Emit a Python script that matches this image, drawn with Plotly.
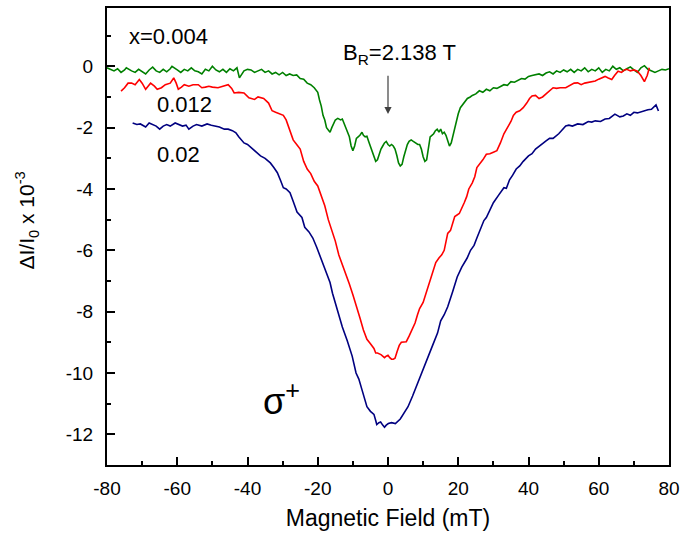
import plotly.graph_objects as go

# ---------------- data ----------------
green_x = [-80, -79, -78, -77, -76, -75, -74.5, -73, -72, -71, -70, -69, -68, -67, -66, -65, -64, -63, -62, -61.5,
           -60, -59, -58, -57, -56, -55, -54, -53, -52, -51, -50, -49, -48, -47, -46, -45, -44, -43, -42.3, -41,
           -40, -39, -38, -37, -36, -35, -34, -33, -32, -31, -30, -29, -28, -27, -26, -25, -24, -23, -22, -21,
           -20, -19.5, -19, -18.5, -18, -17.5, -17, -16.5, -16, -15.5, -15, -14.3, -13.5, -13, -12.5, -12, -11.5,
           -11, -10.5, -10, -9.5, -9, -8.5, -8, -7.4, -7, -6.5, -6, -5.5, -5, -4.5, -4, -3.5, -3, -2.5, -2, -1.5,
           -1, -0.5, 0, 0.5, 1, 1.5, 2, 2.5, 3, 3.5, 4, 4.5, 5, 5.5, 6, 6.6, 7.2, 8, 8.5, 9, 9.5, 10, 10.5, 11,
           11.5, 12, 12.5, 13, 13.5, 14, 14.5, 15, 15.5, 16, 16.5, 17, 17.5, 18, 18.5, 19, 19.5, 20, 20.6, 21.2,
           22, 22.6, 23.4, 24, 25, 26, 27, 28, 29, 30, 31, 32, 33, 34, 35, 36, 37, 38, 39, 40, 41, 42, 43, 44,
           45, 46, 47, 48, 49, 50, 51, 52, 53, 54, 55, 56, 57, 58, 59, 60, 61, 62, 63, 64, 65, 66, 67, 68, 69,
           70, 71, 72, 73, 74, 75, 76, 77, 78, 79, 80]
green_y = [-0.05, -0.1, -0.15, -0.08, -0.2, -0.12, -0.05, -0.15, -0.2, -0.1, -0.18, -0.25, -0.12, -0.03, -0.15,
           -0.2, -0.1, -0.18, -0.08, 0.0, -0.12, -0.2, -0.1, -0.15, -0.05, -0.15, -0.18, -0.25, -0.1, -0.15, 0.0,
           -0.12, -0.18, -0.1, -0.2, -0.08, -0.15, -0.05, -0.38, -0.15, -0.1, -0.12, -0.2, -0.15, -0.1, -0.2,
           -0.15, -0.25, -0.2, -0.28, -0.2, -0.3, -0.25, -0.3, -0.28, -0.4, -0.42, -0.55, -0.6, -0.7, -0.85,
           -1.1, -1.3, -1.6, -1.75, -2.0, -2.1, -2.15, -2.0, -1.85, -1.75, -1.7, -1.75, -1.72, -1.85, -2.0,
           -2.15, -2.3, -2.6, -2.75, -2.6, -2.35, -2.3, -2.25, -2.15, -2.25, -2.3, -2.28, -2.45, -2.6, -2.8,
           -2.95, -3.1, -3.05, -2.85, -2.7, -2.6, -2.5, -2.45, -2.55, -2.6, -2.55, -2.6, -2.7, -2.9, -3.15,
           -3.25, -3.2, -2.95, -2.7, -2.55, -2.45, -2.4, -2.45, -2.5, -2.55, -2.55, -2.7, -2.95, -3.1, -3.05,
           -2.6, -2.3, -2.25, -2.2, -2.1, -2.05, -2.15, -2.05, -2.2, -2.15, -2.25, -2.4, -2.6, -2.5, -2.25,
           -2.05, -1.8, -1.55, -1.35, -1.25, -1.15, -1.05, -1.0, -0.95, -0.9, -0.8, -0.85, -0.75, -0.8, -0.7,
           -0.72, -0.65, -0.6, -0.62, -0.5, -0.52, -0.45, -0.4, -0.42, -0.33, -0.3, -0.28, -0.25, -0.3, -0.22,
           -0.18, -0.25, -0.15, -0.2, -0.12, -0.18, -0.1, -0.2, -0.1, -0.15, -0.05, -0.18, -0.1, -0.15, -0.05,
           -0.2, -0.1, -0.15, 0.0, -0.1, -0.05, -0.15, -0.08, -0.02, -0.12, -0.2, -0.05, 0.02, -0.1, -0.15,
           -0.2, -0.15, -0.1, -0.12, -0.08]

red_x = [-76, -75, -74, -73, -72, -70.8, -70, -69, -68.3, -67.6, -66.5, -65.7, -64.5, -63.4, -62, -61, -60.3,
         -59.7, -58.8, -58, -56.7, -55.5, -54, -53, -52, -51, -50, -48.4, -47, -45.5, -44.5, -43.8, -42.5, -41,
         -39.6, -38, -37, -35.4, -34, -33, -32, -31, -29.8, -29, -28, -27, -26, -25, -24, -23, -22, -21, -20,
         -19, -18, -17, -16, -15, -14, -13, -12, -11, -10, -9, -8, -7, -6, -5, -4, -3.5, -3, -2, -1.5, -1,
         -0.5, 0, 0.5, 1, 1.5, 2, 2.6, 3.2, 3.8, 4.5, 5.2, 6, 6.8, 7.7, 8.4, 9, 10, 11, 11.9, 12.8, 13.6, 14.5,
         15.3, 16, 16.5, 17, 17.8, 18.4, 19, 20.3, 21, 21.7, 22.4, 23, 24, 24.7, 25.3, 26, 27, 28, 29, 30, 31,
         32, 33, 34, 35, 35.7, 36.5, 37.5, 38.5, 39.5, 40.3, 41, 42, 43, 44, 45, 46, 47, 48, 49, 50.6, 52, 53,
         54, 55, 56, 57, 58, 59, 60, 61, 61.8, 62.7, 63.7, 64.5, 65.5, 66.5, 67.3, 68, 69, 70, 71, 72, 73,
         73.8, 74.4]
red_y = [-0.81, -0.7, -0.55, -0.55, -0.6, -0.43, -0.55, -0.75, -0.65, -0.55, -0.65, -0.75, -0.7, -0.6, -0.55,
         -0.38, -0.55, -0.75, -0.68, -0.6, -0.65, -0.6, -0.6, -0.7, -0.68, -0.65, -0.68, -0.7, -0.65, -0.6,
         -0.72, -0.87, -0.85, -0.87, -1.03, -1.08, -1.0, -1.05, -1.2, -1.45, -1.5, -1.55, -1.6, -1.75, -2.1,
         -2.4, -2.55, -2.7, -3.1, -3.35, -3.5, -3.75, -3.9, -4.2, -4.55, -5.0, -5.35, -5.7, -6.15, -6.45, -6.8,
         -7.1, -7.45, -7.8, -8.2, -8.6, -8.9, -9.05, -9.2, -9.35, -9.35, -9.4, -9.45, -9.5, -9.45, -9.42,
         -9.5, -9.55, -9.55, -9.52, -9.3, -9.1, -9.0, -9.0, -8.98, -8.8, -8.6, -8.37, -8.1, -7.9, -7.7, -7.35,
         -6.97, -6.7, -6.4, -6.25, -6.15, -6.0, -5.7, -5.45, -5.35, -5.1, -4.9, -4.8, -4.65, -4.45, -4.25,
         -4.0, -3.8, -3.6, -3.3, -3.2, -3.05, -2.87, -2.85, -2.8, -2.75, -2.5, -2.2, -2.0, -1.8, -1.6, -1.5,
         -1.45, -1.35, -1.2, -1.05, -0.97, -0.95, -1.05, -1.0, -0.9, -0.8, -0.7, -0.72, -0.7, -0.7, -0.62,
         -0.55, -0.54, -0.6, -0.55, -0.52, -0.5, -0.48, -0.42, -0.38, -0.33, -0.38, -0.43, -0.3, -0.16, -0.2,
         -0.12, -0.1, -0.15, -0.12, -0.16, -0.3, -0.5, -0.3, -0.05]

blue_x = [-72.7, -71.5, -70.5, -69, -68, -67, -66, -65, -64, -63, -62, -60.6, -59.5, -58.5, -57.5, -56.7, -55.5,
          -54.5, -53, -51.5, -50.3, -49, -48, -46.6, -45.5, -44.3, -43.3, -42.5, -41.7, -41, -40, -38.5, -37.5,
          -36.3, -35, -33.5, -32.5, -31.5, -30.5, -29.8, -29, -27.9, -27, -25.9, -24.5, -23.7, -22.5, -21.4,
          -20.3, -19, -17.5, -16.5, -15.8, -14.5, -13, -11.6, -10.2, -9.1, -8.3, -7.4, -6.6, -6, -5, -4, -3.5,
          -3.2, -2.6, -2.1, -1.5, -1, -0.5, 0.1, 1, 2.1, 3.5, 4.5, 5.7, 7, 8.5, 10, 11.3, 12.7, 14.1, 15, 16,
          17, 18.4, 19.7, 21, 22.5, 23.5, 24.5, 25.3, 26.2, 27.3, 28, 29, 30, 31.5, 33, 33.7, 34.6, 35.5, 36.5,
          37.5, 38.5, 40, 41, 42, 43, 44, 45, 46, 47, 48.6, 49.5, 50.6, 51.5, 52.5, 54, 55.5, 57, 58, 59, 60.5,
          61.8, 63, 64.6, 66, 67, 68, 69, 70, 71, 72, 73, 74, 75, 76.3, 77]
blue_y = [-1.85, -1.9, -1.88, -1.98, -1.85, -1.9, -1.95, -2.05, -1.95, -1.9, -1.95, -1.85, -1.9, -1.95, -1.92,
          -2.05, -1.95, -1.9, -1.95, -1.88, -1.92, -1.95, -1.98, -2.05, -2.05, -2.1, -2.17, -2.3, -2.4, -2.5,
          -2.55, -2.7, -2.8, -2.92, -3.0, -3.15, -3.3, -3.47, -3.75, -3.96, -4.0, -4.12, -4.4, -4.75, -4.93,
          -5.25, -5.4, -5.6, -5.9, -6.3, -6.75, -7.05, -7.4, -7.9, -8.5, -8.95, -9.45, -10.0, -10.2, -10.55,
          -10.85, -11.1, -11.25, -11.35, -11.55, -11.68, -11.62, -11.6, -11.7, -11.77, -11.7, -11.65, -11.62,
          -11.65, -11.5, -11.3, -11.1, -10.75, -10.3, -9.9, -9.5, -9.1, -8.7, -8.3, -8.1, -7.84, -7.35, -6.87,
          -6.55, -6.26, -6.0, -5.84, -5.6, -5.35, -5.03, -4.93, -4.7, -4.45, -4.2, -3.96, -3.98, -3.7, -3.55,
          -3.35, -3.25, -3.1, -2.92, -2.85, -2.7, -2.6, -2.5, -2.43, -2.35, -2.35, -2.2, -2.1, -1.95, -1.92,
          -1.95, -1.88, -1.9, -1.8, -1.82, -1.78, -1.8, -1.72, -1.7, -1.56, -1.65, -1.62, -1.55, -1.6, -1.5,
          -1.52, -1.48, -1.45, -1.42, -1.4, -1.26, -1.46]

x_ticks = [-80, -60, -40, -20, 0, 20, 40, 60, 80]
x_tick_labels = ["-80", "-60", "-40", "-20", "0", "20", "40", "60", "80"]
y_ticks = [-12, -10, -8, -6, -4, -2, 0]
y_tick_labels = ["-12", "-10", "-8", "-6", "-4", "-2", "0"]

FONT = "Arial, Liberation Sans, sans-serif"

fig = go.Figure()
fig.add_trace(go.Scatter(x=green_x, y=green_y, mode="lines", line=dict(color="#008000", width=1.6),
                         name="x=0.004"))
fig.add_trace(go.Scatter(x=red_x, y=red_y, mode="lines", line=dict(color="#ff0000", width=1.6),
                         name="0.012"))
fig.add_trace(go.Scatter(x=blue_x, y=blue_y, mode="lines", line=dict(color="#000080", width=1.6),
                         name="0.02"))

axis_common = dict(
    showline=True, linecolor="black", linewidth=2, mirror=True,
    ticks="inside", ticklen=8, tickwidth=2, tickcolor="black",
    showgrid=False, zeroline=False,
    tickfont=dict(family=FONT, size=19, color="black"),
    ticklabeloverflow="allow",
)

fig.update_xaxes(range=[-80, 80], tickvals=x_ticks, ticktext=x_tick_labels,
                 minor=dict(ticks="inside", ticklen=4, tickwidth=2, tickcolor="black", dtick=10, showgrid=False),
                 title=dict(text="Magnetic Field (mT)", font=dict(family=FONT, size=23, color="black"), standoff=12),
                 ticklabelstandoff=5,
                 **axis_common)
fig.update_yaxes(range=[-13, 1.9], tickvals=y_ticks, ticktext=y_tick_labels,
                 minor=dict(ticks="inside", ticklen=4, tickwidth=2, tickcolor="black", dtick=1, showgrid=False),
                 ticklabelstandoff=8,
                 **axis_common)

ann_font = dict(family=FONT, size=22, color="black")
fig.add_annotation(x=-74.4, y=0.97, text="x=0.004", showarrow=False, xanchor="left", yanchor="middle", font=ann_font)
fig.add_annotation(x=-66.3, y=-1.24, text="0.012", showarrow=False, xanchor="left", yanchor="middle", font=ann_font)
fig.add_annotation(x=-66.3, y=-2.87, text="0.02", showarrow=False, xanchor="left", yanchor="middle", font=ann_font)
fig.add_annotation(x=3.2, y=0.4, text="B<sub>R</sub>=2.138 T", showarrow=False, xanchor="center",
                   yanchor="middle", font=ann_font)
fig.add_annotation(x=0, y=-1.56, ax=0, ay=-0.26, axref="x", ayref="y", text="", showarrow=True,
                   arrowhead=2, arrowsize=1.2, arrowwidth=1.2, arrowcolor="#404040")
fig.add_annotation(x=-36.3, y=-10.85, text="σ<sup>+</sup>", showarrow=False, xanchor="left", yanchor="middle",
                   font=dict(family=FONT, size=36, color="black"))
fig.add_annotation(xref="paper", yref="paper", x=0, y=0.535, xshift=-80, text="ΔI/I<sub>0</sub> x 10<sup>-3</sup>",
                   textangle=-90, showarrow=False, xanchor="center", yanchor="middle",
                   font=dict(family=FONT, size=21, color="black"))

fig.update_layout(
    width=686, height=533,
    margin=dict(l=107, r=9, t=6, b=67),
    paper_bgcolor="white", plot_bgcolor="white",
    showlegend=False,
)

fig.write_html("out.html", config={"displayModeBar": False},
               post_script="document.body.style.margin='0';document.body.style.overflow='hidden';")
